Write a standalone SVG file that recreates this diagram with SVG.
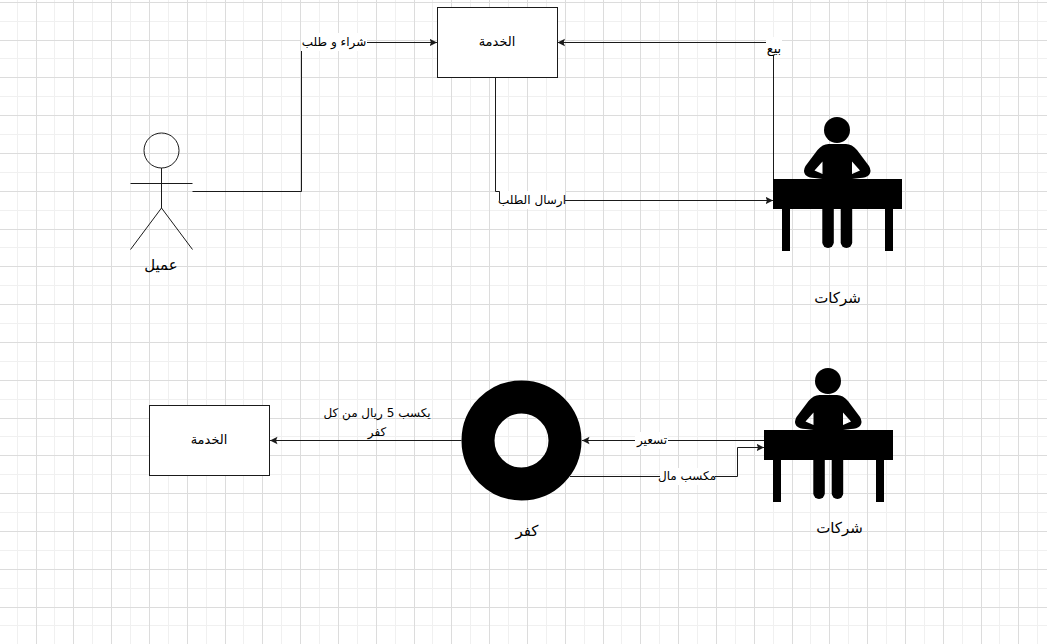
<svg xmlns="http://www.w3.org/2000/svg" xmlns:xlink="http://www.w3.org/1999/xlink" width="1047" height="644" viewBox="0 0 1047 644">
<style>
text{font-family:"DejaVu Sans","Noto Sans",sans-serif;fill:#000;text-anchor:middle;direction:rtl}
.t12{font-size:12px}.t13{font-size:13px}.t15{font-size:15px}
.box{fill:#fff;stroke:#1a1a1a;stroke-width:1}
.ln{fill:none;stroke:#1a1a1a;stroke-width:1}
.arr{marker-end:url(#a)}
.bg{fill:#fff}
.gmin{fill:none;stroke:#f0f0f0;stroke-width:1}
.gmaj{fill:none;stroke:#dcdcdc;stroke-width:1}
</style>
<defs>
<marker id="a" markerUnits="userSpaceOnUse" markerWidth="9" markerHeight="9" refX="7.500" refY="4" orient="auto"><path d="M0 0.200L7.500 4L0 7.800L1.500 4z" fill="#1a1a1a" stroke="none"/></marker>
<g id="desk">
<circle cx="837" cy="130" r="13"/>
<path d="M837 144H846Q852 144 857 150L869 166Q872 171 869 175Q866 178 860 178L852 179V174L860 170.500L852 161.500V209H822.500V161.500L814.500 170.500L822.500 174V179L814.500 178Q808.500 178 805.500 175Q802.500 171 805.500 166L817.500 150Q822.500 144 828.500 144Z"/>
<rect x="822.300" y="200" width="11.500" height="48" rx="5.700"/>
<rect x="840.700" y="200" width="11.500" height="48" rx="5.700"/>
<rect x="773" y="179" width="129" height="30"/>
<rect x="782" y="209" width="8" height="42"/>
<rect x="885" y="209" width="8" height="42"/>
</g>
</defs>
<rect width="1047" height="644" fill="#fff"/>
<g id="grid">
<path class="gmin" d="M17.500 0V644M54.500 0V644M92.500 0V644M130.500 0V644M168.500 0V644M206.500 0V644M243.500 0V644M281.500 0V644M319.500 0V644M357.500 0V644M395.500 0V644M432.500 0V644M470.500 0V644M508.500 0V644M546.500 0V644M584.500 0V644M621.500 0V644M659.500 0V644M697.500 0V644M735.500 0V644M773.500 0V644M810.500 0V644M848.500 0V644M886.500 0V644M924.500 0V644M962.500 0V644M999.500 0V644M1037.500 0V644M0 21.500H1047M0 58.500H1047M0 96.500H1047M0 134.500H1047M0 172.500H1047M0 210.500H1047M0 247.500H1047M0 285.500H1047M0 323.500H1047M0 361.500H1047M0 399.500H1047M0 436.500H1047M0 474.500H1047M0 512.500H1047M0 550.500H1047M0 588.500H1047M0 625.500H1047"/>
<path class="gmaj" d="M36.500 0V644M73.500 0V644M111.500 0V644M149.500 0V644M187.500 0V644M225.500 0V644M262.500 0V644M300.500 0V644M338.500 0V644M376.500 0V644M414.500 0V644M451.500 0V644M489.500 0V644M527.500 0V644M565.500 0V644M603.500 0V644M640.500 0V644M678.500 0V644M716.500 0V644M754.500 0V644M792.500 0V644M829.500 0V644M867.500 0V644M905.500 0V644M943.500 0V644M981.500 0V644M1018.500 0V644M0 2.500H1047M0 40.500H1047M0 77.500H1047M0 115.500H1047M0 153.500H1047M0 191.500H1047M0 229.500H1047M0 266.500H1047M0 304.500H1047M0 342.500H1047M0 380.500H1047M0 418.500H1047M0 455.500H1047M0 493.500H1047M0 531.500H1047M0 569.500H1047M0 607.500H1047"/>
</g>
<g id="connectors">
<path class="ln arr" d="M192.500 191.500H301.500V42.500H437"/>
<path class="ln arr" d="M773.500 180V42.500H557.500"/>
<path class="ln arr" d="M495.500 77.500V191.500H499.500V200.500H773"/>
<path class="ln arr" d="M764 440.500H582"/>
<path class="ln arr" d="M570 476.500H737.500V447.500H764"/>
<path class="ln arr" d="M461.500 440.500H270"/>
<rect class="bg" x="301" y="33" width="66" height="18"/><text class="t12" x="334" y="46">شراء و طلب</text>
<rect class="bg" x="766" y="37" width="16" height="18"/><text class="t13" x="774" y="53">بيع</text>
<rect class="bg" x="500" y="191" width="65" height="18"/><text class="t12" x="532" y="204">ارسال الطلب</text>
<rect class="bg" x="635" y="432" width="33" height="17"/><text class="t12" x="652" y="444">تسعير</text>
<rect class="bg" x="660" y="468" width="55" height="17"/><text class="t12" x="687" y="480">مكسب مال</text>
<text class="t12" x="377" y="417">يكسب 5 ريال من كل</text>
<text class="t12" x="377" y="436">كفر</text>
</g>
<g id="service-top">
<rect class="box" x="437.500" y="7.500" width="120" height="70"/>
<text class="t13" x="497" y="46">الخدمة</text>
</g>
<g id="customer">
<circle class="ln" cx="161.500" cy="150.500" r="17.500"/>
<path class="ln" d="M161.500 168V208M130.500 183.500H192.500M161.500 208L130.500 249.500M161.500 208L192.500 249.500"/>
<text class="t15" x="161" y="270">عميل</text>
</g>
<g id="companies-top">
<use href="#desk" xlink:href="#desk"/>
<text class="t15" x="837.500" y="303">شركات</text>
</g>
<g id="service-bottom">
<rect class="box" x="149.500" y="405.500" width="120" height="70"/>
<text class="t13" x="209" y="444">الخدمة</text>
</g>
<g id="tire">
<circle cx="521.500" cy="440.500" r="43.500" fill="none" stroke="#000" stroke-width="33"/>
<text class="t15" x="527" y="536">كفر</text>
</g>
<g id="companies-bottom">
<use href="#desk" xlink:href="#desk" transform="translate(-9 251)"/>
<text class="t15" x="839.500" y="533">شركات</text>
</g>
</svg>
